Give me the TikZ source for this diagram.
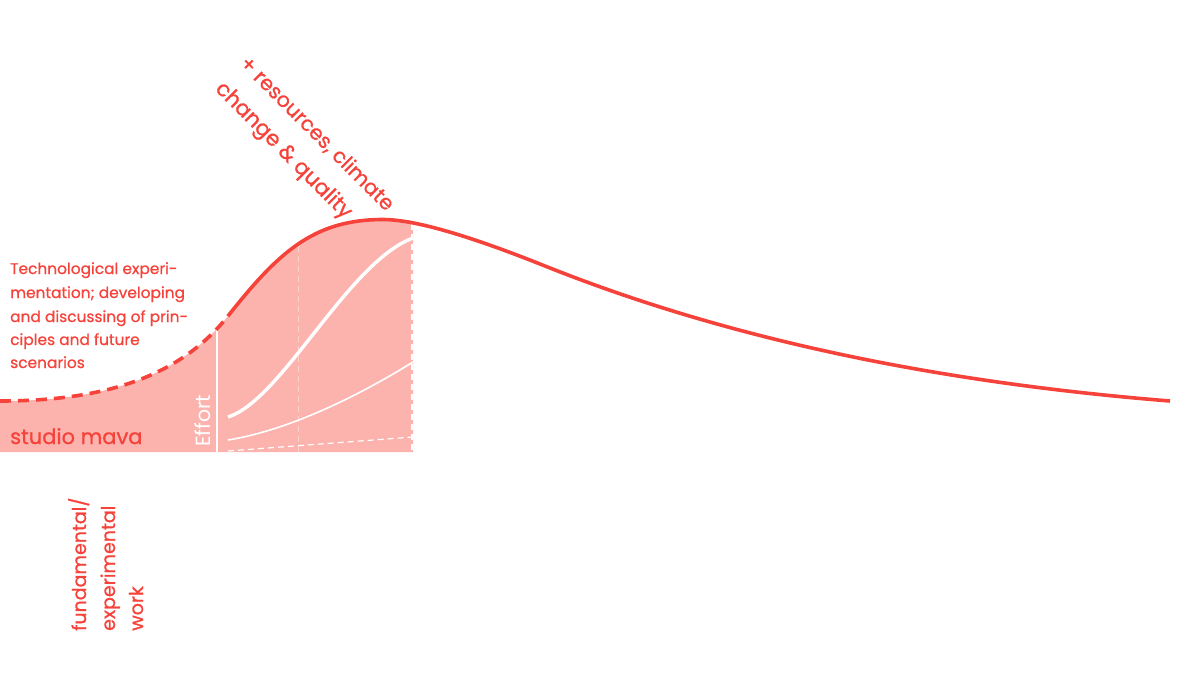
\documentclass[tikz,border=0pt]{standalone}
\usepackage{fontspec}
\setmainfont{Poppins}
\newfontfamily\medfont{Poppins}[FakeBold=0.8]
\definecolor{mred}{HTML}{F5423A}
\definecolor{mfill}{HTML}{FCB3AE}
\begin{document}
\begin{tikzpicture}[x=1pt,y=-1pt,
  lbl/.style={inner sep=0pt, text=mred},
  curveline/.style={draw=mred, line width=3.6pt},
  wline/.style={draw=white}]
\useasboundingbox (0,0) rectangle (1200,688);
% key points of the curve
\coordinate (c0) at (0,401);
\coordinate (c1) at (228,316);
\coordinate (c2) at (383,219.5);
\coordinate (c3) at (545,266);
\coordinate (c4) at (1170,401);
% fill under the curve
\fill[mfill] (c0) .. controls (100,401) and (178,379) .. (c1)
  .. controls (278,253) and (313,219.5) .. (c2)
  .. controls (400,219.5) and (413,220.5) .. (413,221.5) -- (413,452) -- (0,452) -- cycle;
% internal lines
\coordinate (v1t) at (217,325);
\coordinate (v1b) at (217,452);
\coordinate (v2t) at (298,246);
\coordinate (v2b) at (298,452);
\coordinate (v3t) at (412,224);
\coordinate (v3b) at (412,452);
\draw[wline, line width=1.6pt] (v1t) -- (v1b);
\draw[wline, line width=1pt, dash pattern=on 6pt off 4pt, opacity=0.4] (v2t) -- (v2b);
\draw[wline, line width=1.2pt, dash pattern=on 6pt off 4pt] (v3t) -- (v3b);
\coordinate (a0) at (228,417);
\coordinate (a1) at (413,238);
\coordinate (b0) at (228,440);
\coordinate (b1) at (413,362);
\coordinate (d0) at (228,451);
\coordinate (d1) at (413,437);
\draw[wline, line width=3.4pt] (a0) .. controls (282,400) and (348,262) .. (a1);
\draw[wline, line width=1.6pt] (b0) .. controls (290,430) and (360,395) .. (b1);
\draw[wline, line width=1.2pt, dash pattern=on 6pt off 4pt] (d0) -- (d1);
% main curve
\draw[curveline, dash pattern=on 11pt off 7pt] (c0) .. controls (100,401) and (178,379) .. (c1);
\draw[curveline] (c1) .. controls (278,253) and (313,219.5) .. (c2)
  .. controls (423,219.5) and (495,246) .. (c3)
  .. controls (715,334) and (920,381) .. (c4);
% texts
\node[lbl, anchor=base west, font=\medfont\fontsize{15.4}{18}\selectfont] (p1) at (10,274) {Technological experi-};
\node[lbl, anchor=base west, font=\medfont\fontsize{15.4}{18}\selectfont] (p2) at (10,298) {mentation; developing};
\node[lbl, anchor=base west, font=\medfont\fontsize{15.4}{18}\selectfont] (p3) at (10,322) {and discussing of prin-};
\node[lbl, anchor=base west, font=\medfont\fontsize{15.4}{18}\selectfont] (p4) at (10,345) {ciples and future};
\node[lbl, anchor=base west, font=\medfont\fontsize{15.4}{18}\selectfont] (p5) at (10,368) {scenarios};
\node[lbl, anchor=base west, font=\medfont\fontsize{21}{24}\selectfont] (sm) at (10,444) {studio mava};
\node[inner sep=0pt, text=white, anchor=base west, rotate=90, font=\fontsize{20.5}{22}\selectfont] (eff) at (210,447) {Effort};
\node[lbl, anchor=base west, rotate=90, font=\medfont\fontsize{19}{21}\selectfont] (f1) at (86,631) {fundamental/};
\node[lbl, anchor=base west, rotate=90, font=\medfont\fontsize{19}{21}\selectfont] (f2) at (115,631) {experimental};
\node[lbl, anchor=base west, rotate=90, font=\medfont\fontsize{19}{21}\selectfont] (f3) at (143,631) {work};
\node[lbl, anchor=west, rotate=-45, font=\medfont\fontsize{20.6}{22}\selectfont] (r1) at (243,60) {+ resources, climate};
\node[lbl, anchor=west, rotate=-45, font=\medfont\fontsize{21.5}{24}\selectfont] (r2) at (218,86) {change \& quality};
\end{tikzpicture}
\end{document}
